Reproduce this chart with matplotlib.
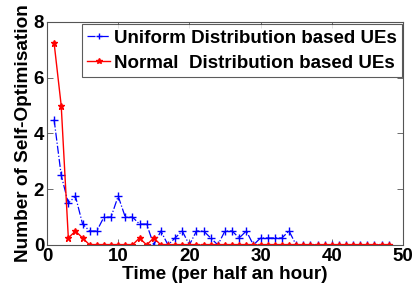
import matplotlib
matplotlib.use('Agg')
import matplotlib.pyplot as plt
import numpy as np

# Data
time_uniform = list(range(1, 49))
uniform_ues = [4.5, 2.5, 1.5, 1.75, 0.75, 0.5, 0.5, 1.0, 1.0, 1.75,
               1.0, 1.0, 0.75, 0.75, 0.0, 0.5, 0.0, 0.25, 0.5, 0.0,
               0.5, 0.5, 0.25, 0.0, 0.5, 0.5, 0.25, 0.5, 0.0, 0.25,
               0.25, 0.25, 0.25, 0.5] + [0.0] * 14

time_normal = list(range(1, 49))
normal_ues = [7.25, 5.0, 0.25, 0.5, 0.25, 0, 0, 0, 0, 0,
              0, 0, 0.25, 0, 0.25] + [0.0] * 33

x_ticks = [0, 10, 20, 30, 40, 50]
y_ticks = [0, 2, 4, 6, 8]

plt.rcParams['font.family'] = ['Liberation Sans', 'DejaVu Sans']

fig = plt.figure(figsize=(4.12, 2.93), dpi=100)
ax = fig.add_axes([0.114, 0.164, 0.864, 0.761])

ax.plot(time_uniform, uniform_ues, color='#0000ff', linestyle='-.', linewidth=0.9,
        marker='+', markersize=6, markeredgewidth=1.0,
        label='Uniform Distribution based UEs')
ax.plot(time_normal, normal_ues, color='#ff0000', linestyle='-', linewidth=1.0,
        marker='*', markersize=5, label='Normal  Distribution based UEs')

ax.set_xlim(0, 50)
ax.set_ylim(0, 8)
ax.set_xticks(x_ticks)
ax.set_yticks(y_ticks)
ax.tick_params(direction='in', top=True, right=True, length=4, width=0.6,
               color='#555555', labelsize=13.5, pad=2)
for lbl in ax.get_xticklabels() + ax.get_yticklabels():
    lbl.set_fontweight('bold')
for sp in ax.spines.values():
    sp.set_linewidth(0.8)
    sp.set_color('#555555')

ax.set_xlabel('Time (per half an hour)', fontsize=13.7, fontweight='bold', labelpad=1)
ax.set_ylabel('Number of Self-Optimisation', fontsize=13.7, fontweight='bold', labelpad=1)

leg = ax.legend(loc='upper left', bbox_to_anchor=(0.098, 0.99),
                prop={'size': 13.5, 'weight': 'bold'}, markerscale=0.8,
                frameon=True, fancybox=False, handlelength=1.2, handletextpad=0.2,
                borderpad=0.3, labelspacing=0.4, borderaxespad=0)
leg.get_frame().set_edgecolor('#333333')
leg.get_frame().set_linewidth(0.8)

fig.savefig('out.png', dpi=100)
